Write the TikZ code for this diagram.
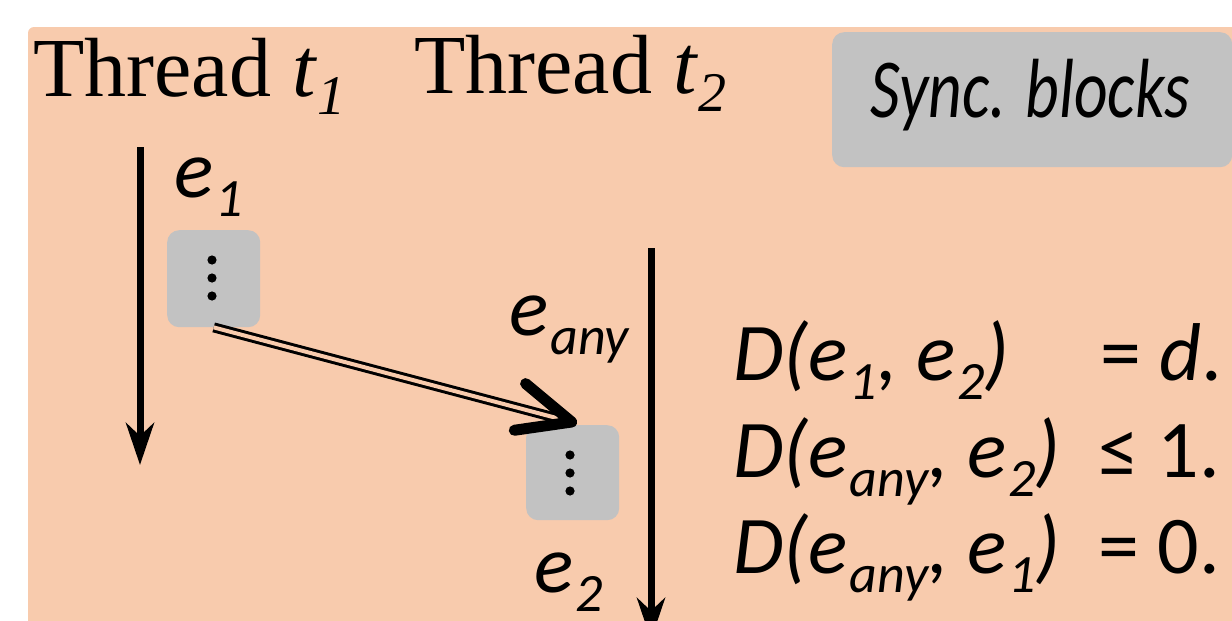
\documentclass[tikz,border=0pt]{standalone}
\usepackage{fontspec}
\setmainfont{Liberation Serif}
\newfontfamily\calfont{Carlito}
\newfontfamily\calnarrow[FakeStretch=0.78]{Carlito}
\usetikzlibrary{arrows.meta,calc}
\definecolor{peach}{HTML}{F8CBAD}
\definecolor{blockgray}{HTML}{C2C2C2}
\newcommand\csub[1]{\kern2pt\raisebox{-19pt}[0pt][0pt]{\fontsize{54}{54}\selectfont #1}}
\newcommand\tsub[1]{\raisebox{-18pt}{\fontsize{56}{56}\selectfont\itshape #1}}
\begin{document}
\begin{tikzpicture}[x=1pt,y=-1pt,
  thread/.style={inner sep=0pt,anchor=base west,font=\fontsize{84}{90}\selectfont},
  lab/.style={inner sep=0pt,anchor=base west,font=\calfont\itshape\fontsize{82}{90}\selectfont},
  legendtext/.style={inner sep=0pt,anchor=base west,font=\calnarrow\itshape\fontsize{84}{90}\selectfont},
  formula/.style={inner sep=0pt,anchor=base west,font=\calfont\itshape\fontsize{82}{90}\selectfont},
  block/.style={fill=blockgray,rounded corners=12pt,draw=none},
  timeline/.style={line width=7pt,-{Stealth[length=42pt,width=28pt,inset=13pt]}},
  dots/.style={fill=black,draw=none}
]
\useasboundingbox (0,0) rectangle (1232,621);
\clip (0,0) rectangle (1232,621);
\fill[peach,rounded corners=6pt] (28,27) rectangle (1245,640);

% titles
\node[thread] (th1) at (33,96) {Thread \textit{t}\tsub{1}};
\node[thread] (th2) at (414,93) {Thread \textit{t}\tsub{2}};

% sync blocks legend
\node[block,minimum width=400pt,minimum height=135pt,anchor=north west] (legend) at (832,32) {};
\node[legendtext] (legtxt) at (870,117) {Sync. blocks};

% timelines
\coordinate (t1top) at (140,147);
\coordinate (t1bot) at (140,465);
\draw[timeline] (t1top) -- (t1bot);
\coordinate (t2top) at (651,248);
\coordinate (t2bot) at (651,640);
\draw[timeline] (t2top) -- (t2bot);

% blocks
\node[block,minimum width=93pt,minimum height=97pt,anchor=north west] (b1) at (167,230) {};
\node[block,minimum width=93pt,minimum height=95pt,anchor=north west] (b2) at (526,425) {};
\foreach \b/\x/\y in {b1/212/260, b2/570/455}{
  \fill[dots] (\x,\y) circle (4.6pt) (\x,\y+18) circle (4.6pt) (\x,\y+36) circle (4.6pt);
}

% event labels
\node[lab] (e1) at (174,197) {e\csub{1}};
\node[lab] (eany) at (509,335) {e\csub{any}};
\node[lab] (e2) at (534,592) {e\csub{2}};

% double arrow
\coordinate (tip) at ($(b2.north)+(-1,-3)$);
\draw[line width=3pt,double=peach,double distance=4pt,shorten >=6pt] (b1.south) -- (tip);
\draw[line width=11pt,line cap=round,line join=round]
  ($(tip)!58pt!23:(b1.south)$) -- (tip) -- ($(tip)!60pt!-25:(b1.south)$);

% formulas
\node[formula] (f1l) at (733,380) {D(e\csub{1}, e\csub{2})};
\node[formula] (f1r) at (1100,380) {\upshape= \itshape d\upshape.};
\node[formula] (f2l) at (733,477) {D(e\csub{any}, e\csub{2})};
\node[formula] (f2r) at (1098,477) {\upshape≤ 1.};
\node[formula] (f3l) at (733,573) {D(e\csub{any}, e\csub{1})};
\node[formula] (f3r) at (1098,573) {\upshape= 0.};
\end{tikzpicture}
\end{document}
